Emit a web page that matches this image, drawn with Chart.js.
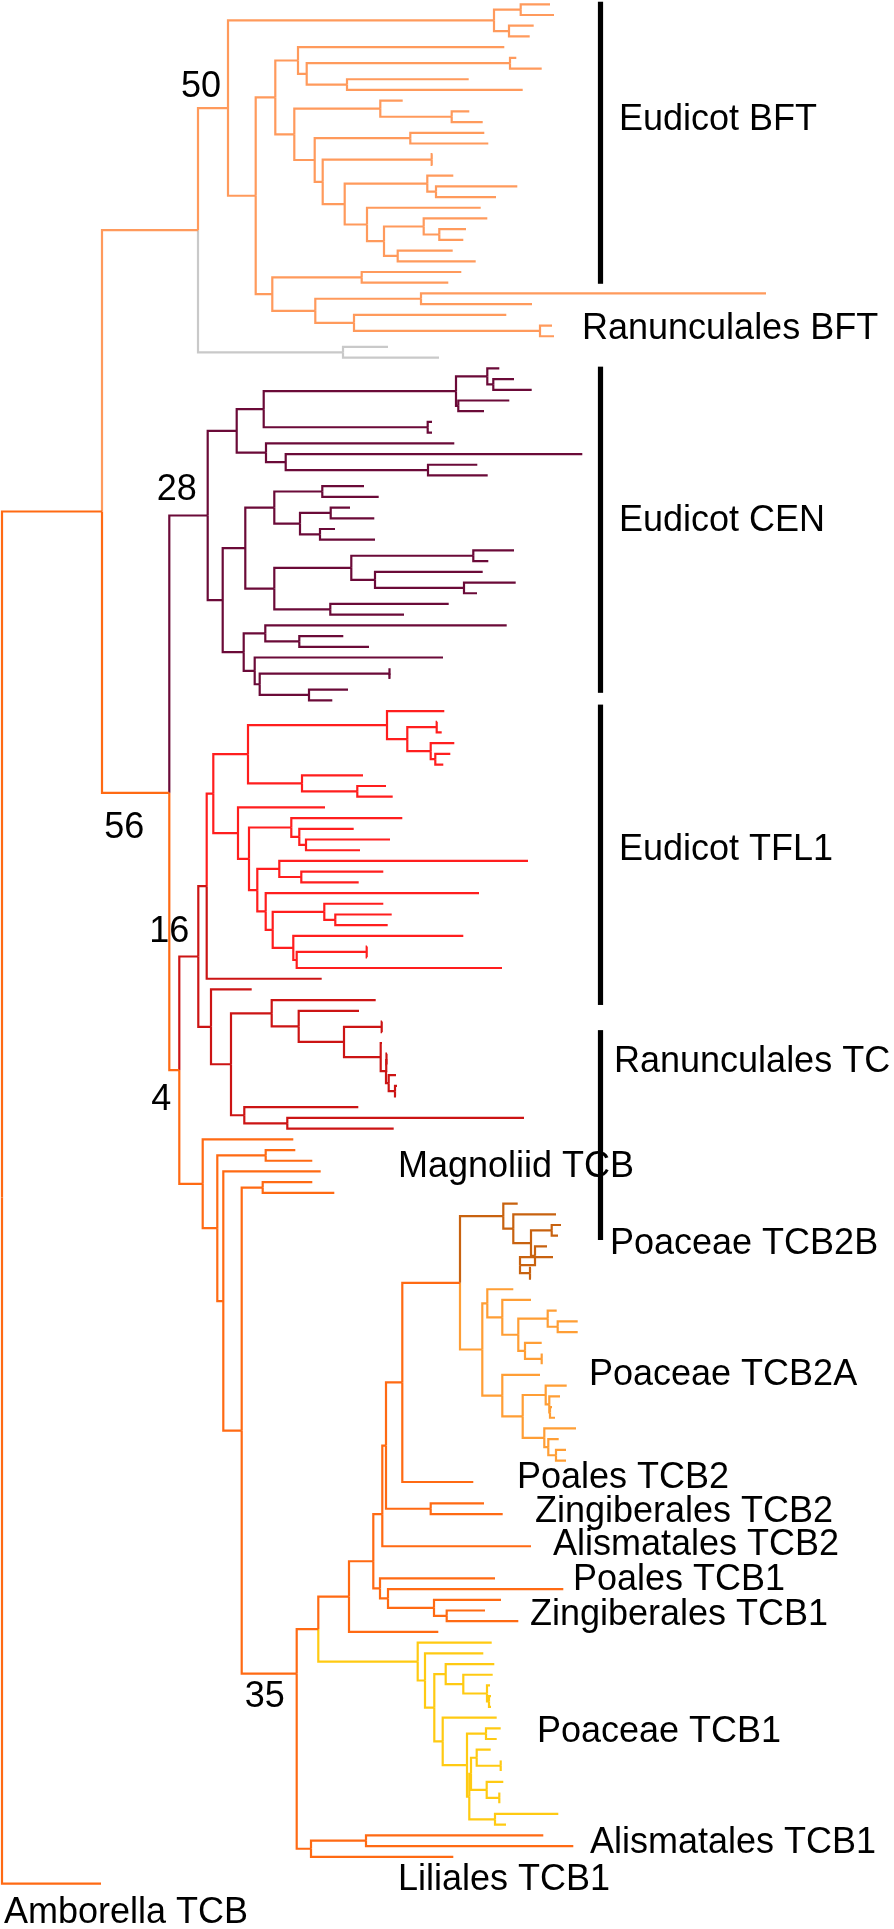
<!DOCTYPE html>
<html><head><meta charset="utf-8">
<script src="https://cdn.jsdelivr.net/npm/chart.js@4.4.1/dist/chart.umd.min.js"></script>
<style>html,body{margin:0;padding:0;background:#fff}#wrap{position:relative;width:894px;height:1929px}</style>
</head><body><div id="wrap"><canvas id="c"></canvas></div>
<script>
// ---- DATA: clade subtrees, Newick-like: leaf = tip distance, "(children)d" = node distance,
// "~g" = empty rows before a leaf, "@r" = node row, "#key" = clade colour key, "$name" = node name
const bftTree = "((((550,554)520.7,(533.7,529.7)509)494,(((504.3,((516.3,541.7)510,(468.7,522.7)347)306.7)298,((402.7,(469.3,482.7)451.7)380.3,((484.3,488.3)410.3,((432.5,432.5)431.7,((453.3,(517.3,496)436)427.3,(480.7,((487.3,(466,463.3)439.3)423.7,(452.7,475.7)397.7)384)367)344.7)322.7)314.7)294.3)275.3,((461.3,448.3)361.7,((766,532)421,(506.3,(552,554)540)354)315.3)272.3)255.7)228$n50,(388,439)343#gray)198#bft";
const cenTree = "(((((499.3,(514,531.7)493.3)487.3,(509.3,484)458.3)456,(432,432)427.7)263.7,(454.3,(582.3,(477.3,487.7)428)285.7)266)236.7,((((364,378.7)322.3,((350,374.3)330.7,(335,375)320)300)274.3,(((514,488.3)473.3,(482.7,(515.7,477)464)375)351.3,(448.7,404)330.3)274.3)245.3,((506.7,(343.3,369)299.3)265.3,(443,((389.7,389.7)389.3,(348,332.3)309)259.7)254.7)243.7)222.7)207.7#cen$n28";
const tfl1Tree = "((((444.3,((437,441.7)436.7,(454.3,(450.3,443.3)435.3)430.7)407.3)387,(363,(386,392.7)357.3)302)248,(325,((402.3,(353.7,(390,360)306)299.3)291.3,((528,(383.3,358.7)301.3)279.3,(479,((383.3,(391.7,387.7)335.3)324.3,(463.3,((367,367)366.7,502)296.7)293.3)272.7)265.7)257.3)249)238)213.3#tfl,321.7)206.7";
const ranTcTree = "(251.7,((375.7,(359,((382,382)381.7,(382,((387,387)386.5,(396,(397,396)395)388.7)386)380.7)344)298.7)271.7,(358.3,(524,393.7)287.3)244.3)231)211";
const monocotTree = "(293.3,((295.3,312.3)265.7,(320.7,((312.3,334.3)262.7,((((((((TCB2B,TCB2A)460,473.3~1)402.3,(484~1,502.7)430.7)386,531~2)382.3@141,(495~2,(563.3,(501,(485,518.3)446.7)434)388)380)373.3@145.4,438.3)349,PTCB1)318.3,((543.3,573.3)366,453.3)311)296.7@155.9$n35)241.7)223.3)217.3)202.7";
const tcb2bTree = "(517.7,(556,((561,558)551.7,(547,(553,(531,531)530)520)535)531)513.3)503.3#tcb2b";
const tcb2aTree = "((513.3,(531,((556.7,(577.7,577.7)557.7)547.7,(541.7,(541.7,541.7)541.7)525)518.3)502.3)487.3,(540,((566.7,(560,(552,555)550)549.3)545.7,(576,(558.7,(566,566)556)548.3)544.3)522.7)502.3)482.3#tcb2a";
const poaceaeTcb1Tree = "(491.7,(483.3,((494.3,(492.7,(490,(491,491)489)487)463.3)445.7,(496.7,((500.7,496.7)486,(((490.7,(500.7,500.7)500.7)476.7,(503.3,(499.3,499.3)499.3)486.7)471,(558.3,506)495)469.3)467)442.7)434.3)425)417.7#yellow";
const backboneTree = "((BFT,(CEN,((TFL1,RTC)198.3#tc$n16,MONO)179.3$n4)169.3$n56)102,101~1.5)2";

const cladeNames = ["Eudicot BFT","Ranunculales BFT","Eudicot CEN","Eudicot TFL1","Ranunculales TC",
  "Magnoliid TCB","Poaceae TCB2B","Poaceae TCB2A","Poales TCB2","Zingiberales TCB2","Alismatales TCB2",
  "Poales TCB1","Zingiberales TCB1","Poaceae TCB1","Alismatales TCB1","Liliales TCB1","Amborella TCB"];
const supportValues = [50, 28, 56, 16, 4, 35];
const supportNodes = ["n50","n28","n56","n16","n4","n35"];

// ---- styles / layout (not data)
const cladeColors = {orange:"#FF6A13", bft:"#FF9A5C", gray:"#C9C9C9", cen:"#6B0A38", tfl:"#FF1E1E",
  tc:"#CC1414", tcb2b:"#C8620F", tcb2a:"#FF9E35", yellow:"#FFCA12"};
const labelAnchors = [[619,10.8],[582,30.3],[619,48.3],[619,79],[614,98.8],[398,108.6],[610,115.8],
  [589,128],[517,137.6],[535,140.8],[553,143.9],[573,147.2],[530,150.4],[537,161.4],[590,171.7],[398,175.2],[4,178.3]];
const supportOffsets = [[-7,-11],[-11,-16],[-25,45],[-9,-15],[-8,40],[-12,33]];
const barRows = [[-0.24,26.1],[33.84,64.3],[65.4,93.45],[95.8,115.4]];

// ---- build tree
let src = backboneTree;
[["MONO",monocotTree],["BFT",bftTree],["CEN",cenTree],["TFL1",tfl1Tree],["RTC",ranTcTree],
 ["TCB2B",tcb2bTree],["TCB2A",tcb2aTree],["PTCB1",poaceaeTcb1Tree]].forEach(([k,v])=>{src = src.split(k).join(v);});

function parseTree(str){
  let i = 0;
  function num(){ const m = /^\d+(\.\d+)?/.exec(str.slice(i)); i += m[0].length; return parseFloat(m[0]); }
  function word(){ const m = /^[A-Za-z0-9_]+/.exec(str.slice(i)); i += m[0].length; return m[0]; }
  function node(){
    const n = {children:[]};
    if (str[i] === '('){ i++; n.children.push(node()); while(str[i]===','){ i++; n.children.push(node()); } i++; }
    n.x = num();
    while (i < str.length && '~@#$'.includes(str[i])){
      const c = str[i++];
      if (c==='~') n.gap = num(); else if (c==='@') n.fixRow = num();
      else if (c==='#') n.color = word(); else n.name = word();
    }
    return n;
  }
  const root = node();
  if (i !== str.length) console.error('parse stopped at', i);
  return root;
}
const root = parseTree(src);
let nextRow = 0; const byName = {};
function layout(n, col){
  n.col = n.color || col;
  if (n.name) byName[n.name] = n;
  if (!n.children.length){ n.row = nextRow + (n.gap||0); nextRow = n.row + 1; }
  else { n.children.forEach(c=>layout(c, n.col)); n.row = (n.children[0].row + n.children[n.children.length-1].row)/2; }
  if (n.fixRow != null) n.row = n.fixRow;
}
layout(root, "orange");

const datasets = [];
(function walk(n){
  n.children.forEach(c=>{
    datasets.push({data:[{x:n.x,y:n.row},{x:n.x,y:c.row},{x:c.x,y:c.row}], showLine:true,
      borderColor:cladeColors[c.col], borderWidth:2.2, pointRadius:0, fill:false, tension:0,
      borderJoinStyle:'miter', borderCapStyle:'butt', clip:false});
    walk(c);
  });
})(root);

const rowPx = 10.708, row0Px = 4.3;
const yMin = -row0Px/rowPx, yMax = yMin + 1929/rowPx;

const annotate = {
  id:'annotate',
  afterDatasetsDraw(chart){
    const {ctx, scales:{x, y}} = chart;
    ctx.save();
    ctx.fillStyle = '#000';
    barRows.forEach(([a,b])=>{
      const px = x.getPixelForValue(600.5), y0 = y.getPixelForValue(a), y1 = y.getPixelForValue(b);
      ctx.fillRect(px-2.6, Math.min(y0,y1), 5.2, Math.abs(y1-y0));
    });
    ctx.font = '36px "Liberation Sans", Arial, sans-serif';
    ctx.textAlign = 'left'; ctx.textBaseline = 'middle';
    cladeNames.forEach((t,i)=>{ const [lx,lr] = labelAnchors[i]; ctx.fillText(t, x.getPixelForValue(lx), y.getPixelForValue(lr)); });
    ctx.textAlign = 'right'; ctx.textBaseline = 'alphabetic';
    supportValues.forEach((v,i)=>{ const n = byName[supportNodes[i]]; const [dx,dy] = supportOffsets[i];
      ctx.fillText(String(v), x.getPixelForValue(n.x)+dx, y.getPixelForValue(n.row)+dy); });
    ctx.restore();
  }
};

new Chart(document.getElementById('c'), {
  type:'scatter',
  data:{datasets},
  options:{
    animation:false, responsive:true, maintainAspectRatio:false, events:[],
    layout:{padding:0},
    plugins:{legend:{display:false}, tooltip:{enabled:false}},
    scales:{
      x:{type:'linear', min:0, max:894, display:false},
      y:{type:'linear', min:yMin, max:yMax, reverse:true, display:false}
    }
  },
  plugins:[annotate]
});
</script></body></html>
